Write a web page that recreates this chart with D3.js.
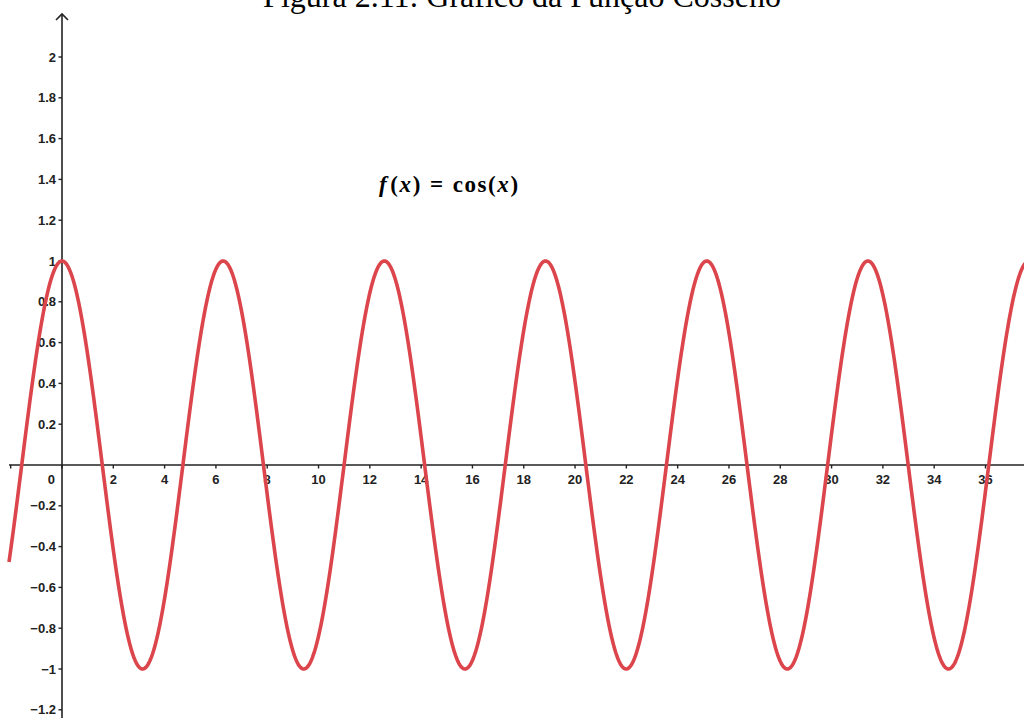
<!DOCTYPE html>
<html>
<head>
<meta charset="utf-8">
<script src="https://cdn.jsdelivr.net/npm/d3@7"></script>
<style>
  html, body { margin: 0; padding: 0; background: #fff; }
  svg { display: block; }
</style>
</head>
<body>
<svg id="chart" width="1024" height="718"></svg>
<script>
// Axis ticks and labels
const xTicks = [-2, 0, 2, 4, 6, 8, 10, 12, 14, 16, 18, 20, 22, 24, 26, 28, 30, 32, 34, 36];
const xTickLabels = ["", "", "2", "4", "6", "8", "10", "12", "14", "16", "18", "20", "22", "24", "26", "28", "30", "32", "34", "36"];
const yTicks = [2, 1.8, 1.6, 1.4, 1.2, 1, 0.8, 0.6, 0.4, 0.2, -0.2, -0.4, -0.6, -0.8, -1, -1.2];
const yTickLabels = ["2", "1.8", "1.6", "1.4", "1.2", "1", "0.8", "0.6", "0.4", "0.2",
                     "\u22120.2", "\u22120.4", "\u22120.6", "\u22120.8", "\u22121", "\u22121.2"];
const titleText = "Figura 2.11: Gráfico da Função Cosseno";
// plotted function: f(x) = cos(x), sampled across the visible window
const fn = Math.cos;
const sampleCount = 1200;

const W = 1024, H = 718;
const svg = d3.select("#chart");

// Scales: x = 0 sits at 62px, 2 units span ~51.3px; y = 0 at 465px, 1 unit = 204px
const x = d3.scaleLinear().domain([0, 36]).range([62, 985.5]);
const y = d3.scaleLinear().domain([0, 1]).range([465, 261]);

const xMin = x.invert(9), xMax = x.invert(W + 2);
const curveData = d3.range(sampleCount + 1).map(i => {
  const t = xMin + (xMax - xMin) * i / sampleCount;
  return { x: t, y: fn(t) };
});

const axisColor = "#222";
const labelFont = "'Liberation Sans', Arial, sans-serif";
const labelSize = 13;

// Title (partly above the top edge)
svg.append("text")
  .attr("x", 522).attr("y", 7)
  .attr("text-anchor", "middle")
  .attr("font-family", "'Liberation Serif', 'Times New Roman', serif")
  .attr("font-size", 32)
  .attr("fill", "#000")
  .text(titleText);

// x axis line
svg.append("line")
  .attr("x1", 9).attr("x2", W)
  .attr("y1", y(0)).attr("y2", y(0))
  .attr("stroke", axisColor).attr("stroke-width", 1.6);

// y axis line with open arrow on top
svg.append("line")
  .attr("x1", x(0)).attr("x2", x(0))
  .attr("y1", H).attr("y2", 14)
  .attr("stroke", axisColor).attr("stroke-width", 1.6);
svg.append("path")
  .attr("d", `M${x(0) - 6},${20} L${x(0)},${14} L${x(0) + 6},${20}`)
  .attr("fill", "none").attr("stroke", axisColor).attr("stroke-width", 1.6);

// x ticks
const xg = svg.append("g");
xTicks.forEach((v, i) => {
  xg.append("line")
    .attr("x1", x(v)).attr("x2", x(v))
    .attr("y1", y(0)).attr("y2", y(0) + 3.5)
    .attr("stroke", axisColor).attr("stroke-width", 1.4);
  if (xTickLabels[i]) {
    xg.append("text")
      .attr("x", x(v)).attr("y", y(0) + 18.5)
      .attr("text-anchor", "middle")
      .attr("font-family", labelFont).attr("font-weight", "bold")
      .attr("font-size", labelSize).attr("fill", axisColor)
      .text(xTickLabels[i]);
  }
});
// origin label
svg.append("text")
  .attr("x", x(0) - 7).attr("y", y(0) + 18.5)
  .attr("text-anchor", "end")
  .attr("font-family", labelFont).attr("font-weight", "bold")
  .attr("font-size", labelSize).attr("fill", axisColor)
  .text("0");

// y ticks
const yg = svg.append("g");
yTicks.forEach((v, i) => {
  yg.append("line")
    .attr("x1", x(0) - 3.5).attr("x2", x(0))
    .attr("y1", y(v)).attr("y2", y(v))
    .attr("stroke", axisColor).attr("stroke-width", 1.4);
  yg.append("text")
    .attr("x", x(0) - 6).attr("y", y(v))
    .attr("dy", "0.36em")
    .attr("text-anchor", "end")
    .attr("font-family", labelFont).attr("font-weight", "bold")
    .attr("font-size", labelSize).attr("fill", axisColor)
    .text(yTickLabels[i]);
});

// function curve
const line = d3.line().x(d => x(d.x)).y(d => y(d.y)).curve(d3.curveLinear);
svg.append("path")
  .datum(curveData)
  .attr("d", line)
  .attr("fill", "none")
  .attr("stroke", "#db454b")
  .attr("stroke-width", 3.6)
  .attr("stroke-linejoin", "round");

// formula label
const f = svg.append("text")
  .attr("x", 379).attr("y", 192)
  .attr("font-family", "'Liberation Serif', 'Times New Roman', serif")
  .attr("font-size", 23).attr("font-weight", "bold").attr("fill", "#000")
  .attr("letter-spacing", 1.6);
f.append("tspan").attr("font-style", "italic").text("f");
f.append("tspan").attr("dx", 2).text("(");
f.append("tspan").attr("font-style", "italic").text("x");
f.append("tspan").text(")");
f.append("tspan").attr("dx", 8).text("=");
f.append("tspan").attr("dx", 8).text("cos(");
f.append("tspan").attr("font-style", "italic").text("x");
f.append("tspan").text(")");
</script>
</body>
</html>
